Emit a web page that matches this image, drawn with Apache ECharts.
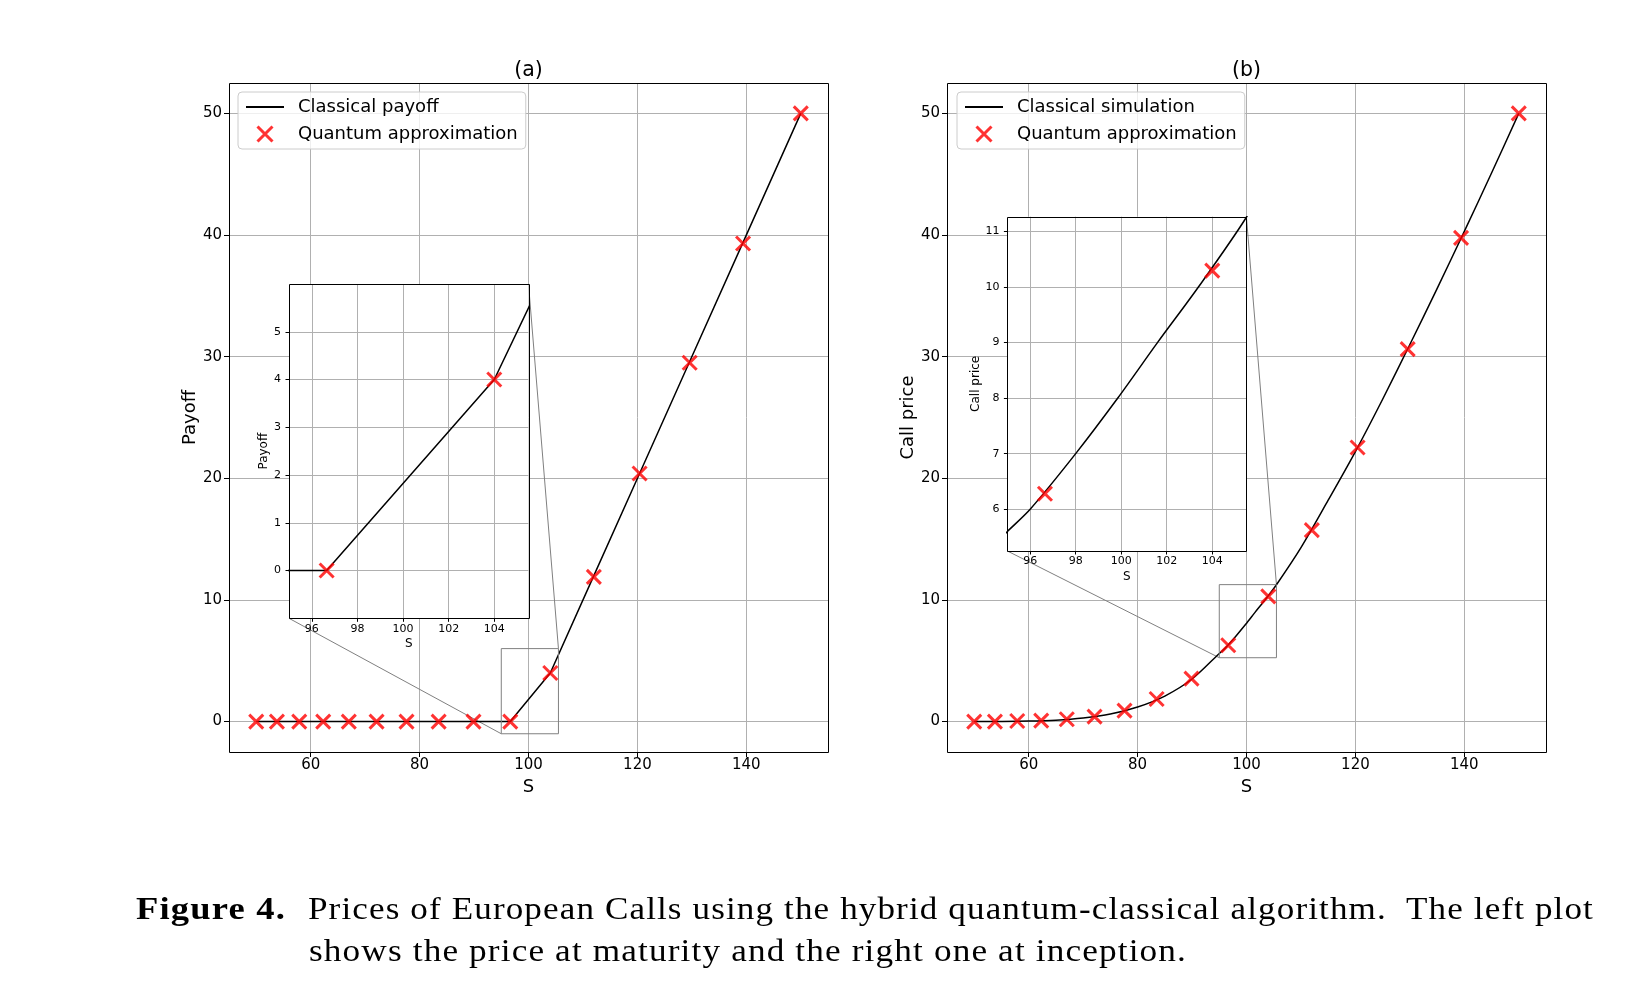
<!DOCTYPE html>
<html>
<head>
<meta charset="utf-8">
<title>Figure 4 - European calls</title>
<script src="https://cdn.jsdelivr.net/npm/echarts@6/dist/echarts.min.js"></script>
<style>
  html, body { margin: 0; padding: 0; background: #fff; }
  #chart { position: absolute; left: 0; top: 0; width: 1644px; height: 1000px; }
  .cap {
    position: absolute;
    font-family: 'Liberation Serif', serif;
    font-size: 31px;
    line-height: 42px;
    letter-spacing: 1px;
    color: #000;
    white-space: pre;
    transform-origin: 0 0;
  }
</style>
</head>
<body>
<div id="chart"></div>
<div class="cap" id="capFig" style="left:136px;top:888px;font-weight:bold">Figure 4.</div>
<div class="cap" id="capL1" style="left:308px;top:888px">Prices of European Calls using the hybrid quantum-classical algorithm.  The left plot</div>
<div class="cap" id="capL2" style="left:309px;top:930px">shows the price at maturity and the right one at inception.</div>
<script>
// grid of spot prices used for the quantum points (and the payoff line)
var spot = [50, 53.8, 57.9, 62.3, 67.0, 72.1, 77.6, 83.5, 89.9, 96.65, 104.0, 112.0, 120.4, 129.6, 139.4, 150.0];
var payoffClassical = [0, 0, 0, 0, 0, 0, 0, 0, 0, 0, 4.0, 12.0, 20.4, 29.6, 39.4, 50.0];
var payoffQuantum = [0, 0, 0, 0, 0, 0, 0, 0, 0, 0, 4.0, 11.9, 20.4, 29.5, 39.3, 50.0];

// classical simulation curve, read at more points
var simSpot = [50, 55, 60, 65, 70, 75, 80, 85, 90, 95, 96, 98, 99.85, 101.6, 103.4, 105.5, 110, 115, 120, 125, 130, 135, 140, 145, 150];
var callClassical = [0.0, 0.01, 0.04, 0.12, 0.3, 0.62, 1.2, 2.1, 3.5, 5.6, 6.0, 7.0, 8.0, 9.0, 10.0, 11.25, 14.3, 18.2, 22.2, 26.5, 31.0, 35.6, 40.3, 45.1, 50.0];
var callQuantum = [0.0, 0.0, 0.05, 0.08, 0.19, 0.41, 0.9, 1.86, 3.53, 6.28, 10.29, 15.74, 22.53, 30.62, 39.77, 50.0];

var mainTicksX = [60, 80, 100, 120, 140];
var mainTicksY = [0, 10, 20, 30, 40, 50];
var insetTicksX = [96, 98, 100, 102, 104];
var insetTicksYA = [0, 1, 2, 3, 4, 5];
var insetTicksYB = [6, 7, 8, 9, 10, 11];

var mainRangeX = [45, 155];
var mainRangeY = [-2.5, 52.5];
var insetRangeX = [95, 105.5];
var insetRangeYA = [-1, 6];
var insetRangeYB = [5.25, 11.26];

var FONT = 'DejaVu Sans';
var X_MARK = 'path://M0,0L10,10M10,0L0,10';
var RED = '#ff0000';

function pairs(xs, ys) {
  return xs.map(function (x, i) { return [x, ys[i]]; });
}
function boxPath(xr, yr) {
  return [[xr[0], yr[0]], [xr[1], yr[0]], [xr[1], yr[1]], [xr[0], yr[1]], [xr[0], yr[0]]];
}

function makeAxis(kind, gi, range, ticks, o) {
  return {
    type: 'value',
    gridIndex: gi,
    min: range[0],
    max: range[1],
    name: o.name,
    nameLocation: 'middle',
    nameGap: o.nameGap,
    nameRotate: kind === 'y' ? 90 : 0,
    nameTextStyle: { fontFamily: FONT, fontSize: o.nameSize, color: '#000' },
    axisLine: { show: false, onZero: false },
    axisTick: { show: true, length: o.tickLen, customValues: ticks, lineStyle: { color: '#000', width: 1 } },
    axisLabel: { customValues: ticks, margin: o.margin, fontFamily: FONT, fontSize: o.labelSize, color: '#000' },
    splitLine: { show: true, lineStyle: { color: '#b0b0b0', width: 1 } },
    z: o.z
  };
}

var mainX = { name: 'S', nameGap: 21, nameSize: 18, tickLen: 5, margin: 6, labelSize: 15, z: 0 };
var insetX = { name: 'S', nameGap: 20, nameSize: 12, tickLen: 3.5, margin: 5, labelSize: 11, z: 11 };

function lineSeries(name, xi, data, z, smooth) {
  return {
    type: 'line', name: name, xAxisIndex: xi, yAxisIndex: xi, data: data,
    symbol: 'none', smooth: smooth || false,
    lineStyle: { color: '#000', width: 1.5 }, itemStyle: { color: '#000' },
    z: z, silent: true
  };
}
function markSeries(name, xi, data, z) {
  return {
    type: 'scatter', name: name, xAxisIndex: xi, yAxisIndex: xi, data: data,
    symbol: X_MARK, symbolSize: 14, symbolKeepAspect: true,
    itemStyle: { color: RED, borderColor: RED, borderWidth: 3 },
    z: z, silent: true
  };
}
function boxSeries(name, xi, xr, yr) {
  return {
    type: 'line', name: name, xAxisIndex: xi, yAxisIndex: xi, data: boxPath(xr, yr),
    symbol: 'none', lineStyle: { color: '#808080', width: 1 }, z: 2, silent: true
  };
}

function legendFor(left, lineName) {
  return {
    orient: 'vertical', left: left, top: 92,
    data: [
      // the line entry keeps only its stroke, no dot in the middle
      { name: lineName, itemStyle: { color: 'rgba(0,0,0,0)', borderWidth: 0 } },
      { name: 'Quantum approximation', itemStyle: { color: RED, borderColor: RED, borderWidth: 3 } }
    ],
    itemWidth: 38, itemHeight: 15, itemGap: 9,
    padding: [6, 8, 6, 7],
    backgroundColor: 'rgba(255,255,255,0.8)',
    borderColor: '#cccccc', borderWidth: 1, borderRadius: 4,
    textStyle: { fontFamily: FONT, fontSize: 18, color: '#000', padding: [0, 0, 0, 9] },
    selectedMode: false,
    z: 6
  };
}

var chart = echarts.init(document.getElementById('chart'));

chart.setOption({
  animation: false,
  backgroundColor: '#fff',
  grid: [
    { left: 229, top: 83, width: 599, height: 669, outerBoundsMode: 'none' },
    { left: 947, top: 83, width: 599, height: 669, outerBoundsMode: 'none' },
    { left: 289, top: 284, width: 239.5, height: 334.3, show: true, backgroundColor: '#fff', borderWidth: 0, z: 10, outerBoundsMode: 'none' },
    { left: 1007.4, top: 216.7, width: 239, height: 334.3, show: true, backgroundColor: '#fff', borderWidth: 0, z: 10, outerBoundsMode: 'none' }
  ],
  xAxis: [
    makeAxis('x', 0, mainRangeX, mainTicksX, mainX),
    makeAxis('x', 1, mainRangeX, mainTicksX, mainX),
    makeAxis('x', 2, insetRangeX, insetTicksX, insetX),
    makeAxis('x', 3, insetRangeX, insetTicksX, insetX)
  ],
  yAxis: [
    makeAxis('y', 0, mainRangeY, mainTicksY, { name: 'Payoff', nameGap: 28, nameSize: 18, tickLen: 5, margin: 7, labelSize: 15, z: 0 }),
    makeAxis('y', 1, mainRangeY, mainTicksY, { name: 'Call price', nameGap: 28, nameSize: 18, tickLen: 5, margin: 7, labelSize: 15, z: 0 }),
    makeAxis('y', 2, insetRangeYA, insetTicksYA, { name: 'Payoff', nameGap: 16.5, nameSize: 12, tickLen: 3.5, margin: 8, labelSize: 11, z: 11 }),
    makeAxis('y', 3, insetRangeYB, insetTicksYB, { name: 'Call price', nameGap: 24, nameSize: 12, tickLen: 3.5, margin: 8, labelSize: 11, z: 11 })
  ],
  legend: [
    legendFor(238, 'Classical payoff'),
    legendFor(957, 'Classical simulation')
  ],
  series: [
    // (a) maturity
    lineSeries('Classical payoff', 0, pairs(spot, payoffClassical), 2),
    markSeries('Quantum approximation', 0, pairs(spot, payoffQuantum), 3),
    boxSeries('zoom a', 0, insetRangeX, insetRangeYA),
    lineSeries('inset a classical', 2, pairs(spot, payoffClassical), 12),
    markSeries('inset a quantum', 2, pairs(spot, payoffQuantum), 13),
    // (b) inception
    lineSeries('Classical simulation', 1, pairs(simSpot, callClassical), 2, 0.3),
    markSeries('Quantum approximation', 1, pairs(spot, callQuantum), 3),
    boxSeries('zoom b', 1, insetRangeX, insetRangeYB),
    lineSeries('inset b classical', 3, pairs(simSpot, callClassical), 12, 0.3),
    markSeries('inset b quantum', 3, pairs(spot, callQuantum), 13)
  ]
});

// frames, titles and the inset connector lines, placed with the axes' own scales
function px(gi, x, y) {
  return chart.convertToPixel({ gridIndex: gi }, [x, y]);
}
function frame(gi, xr, yr) {
  var tl = px(gi, xr[0], yr[1]);
  var br = px(gi, xr[1], yr[0]);
  var x0 = Math.round(tl[0]), y0 = Math.round(tl[1]);
  return {
    type: 'rect', silent: true, z: 100,
    shape: { x: x0 + 0.5, y: y0 + 0.5, width: Math.round(br[0]) - x0, height: Math.round(br[1]) - y0 },
    style: { fill: 'none', stroke: '#000', lineWidth: 1 }
  };
}
function connector(inset, main, x, y) {
  var a = px(inset, x, y);
  var b = px(main, x, y);
  return {
    type: 'line', silent: true, z: 1,
    shape: { x1: a[0], y1: a[1], x2: b[0], y2: b[1] },
    style: { stroke: '#808080', lineWidth: 1 }
  };
}
function title(gi, text) {
  var l = px(gi, mainRangeX[0], mainRangeY[1]);
  var r = px(gi, mainRangeX[1], mainRangeY[1]);
  return {
    type: 'text', silent: true, z: 100,
    x: (l[0] + r[0]) / 2, y: l[1] - 12.5,
    style: { text: text, fontFamily: FONT, fontSize: 20.5, fill: '#000', align: 'center', verticalAlign: 'middle' }
  };
}

chart.setOption({
  graphic: [
    frame(0, mainRangeX, mainRangeY),
    frame(1, mainRangeX, mainRangeY),
    frame(2, insetRangeX, insetRangeYA),
    frame(3, insetRangeX, insetRangeYB),
    connector(2, 0, insetRangeX[0], insetRangeYA[0]),
    connector(2, 0, insetRangeX[1], insetRangeYA[1]),
    connector(3, 1, insetRangeX[0], insetRangeYB[0]),
    connector(3, 1, insetRangeX[1], insetRangeYB[1]),
    title(0, '(a)'),
    title(1, '(b)')
  ]
});

// caption: stretch each line to the width it has in the typeset figure
function fitWidth(id, w) {
  var el = document.getElementById(id);
  el.style.transform = 'none';
  var natural = el.getBoundingClientRect().width;
  el.style.transform = 'scaleX(' + (w / natural) + ')';
}
function fitCaption() {
  fitWidth('capFig', 150);
  fitWidth('capL1', 1286);
  fitWidth('capL2', 878);
}
fitCaption();
if (document.fonts && document.fonts.ready) document.fonts.ready.then(fitCaption);
</script>
</body>
</html>
